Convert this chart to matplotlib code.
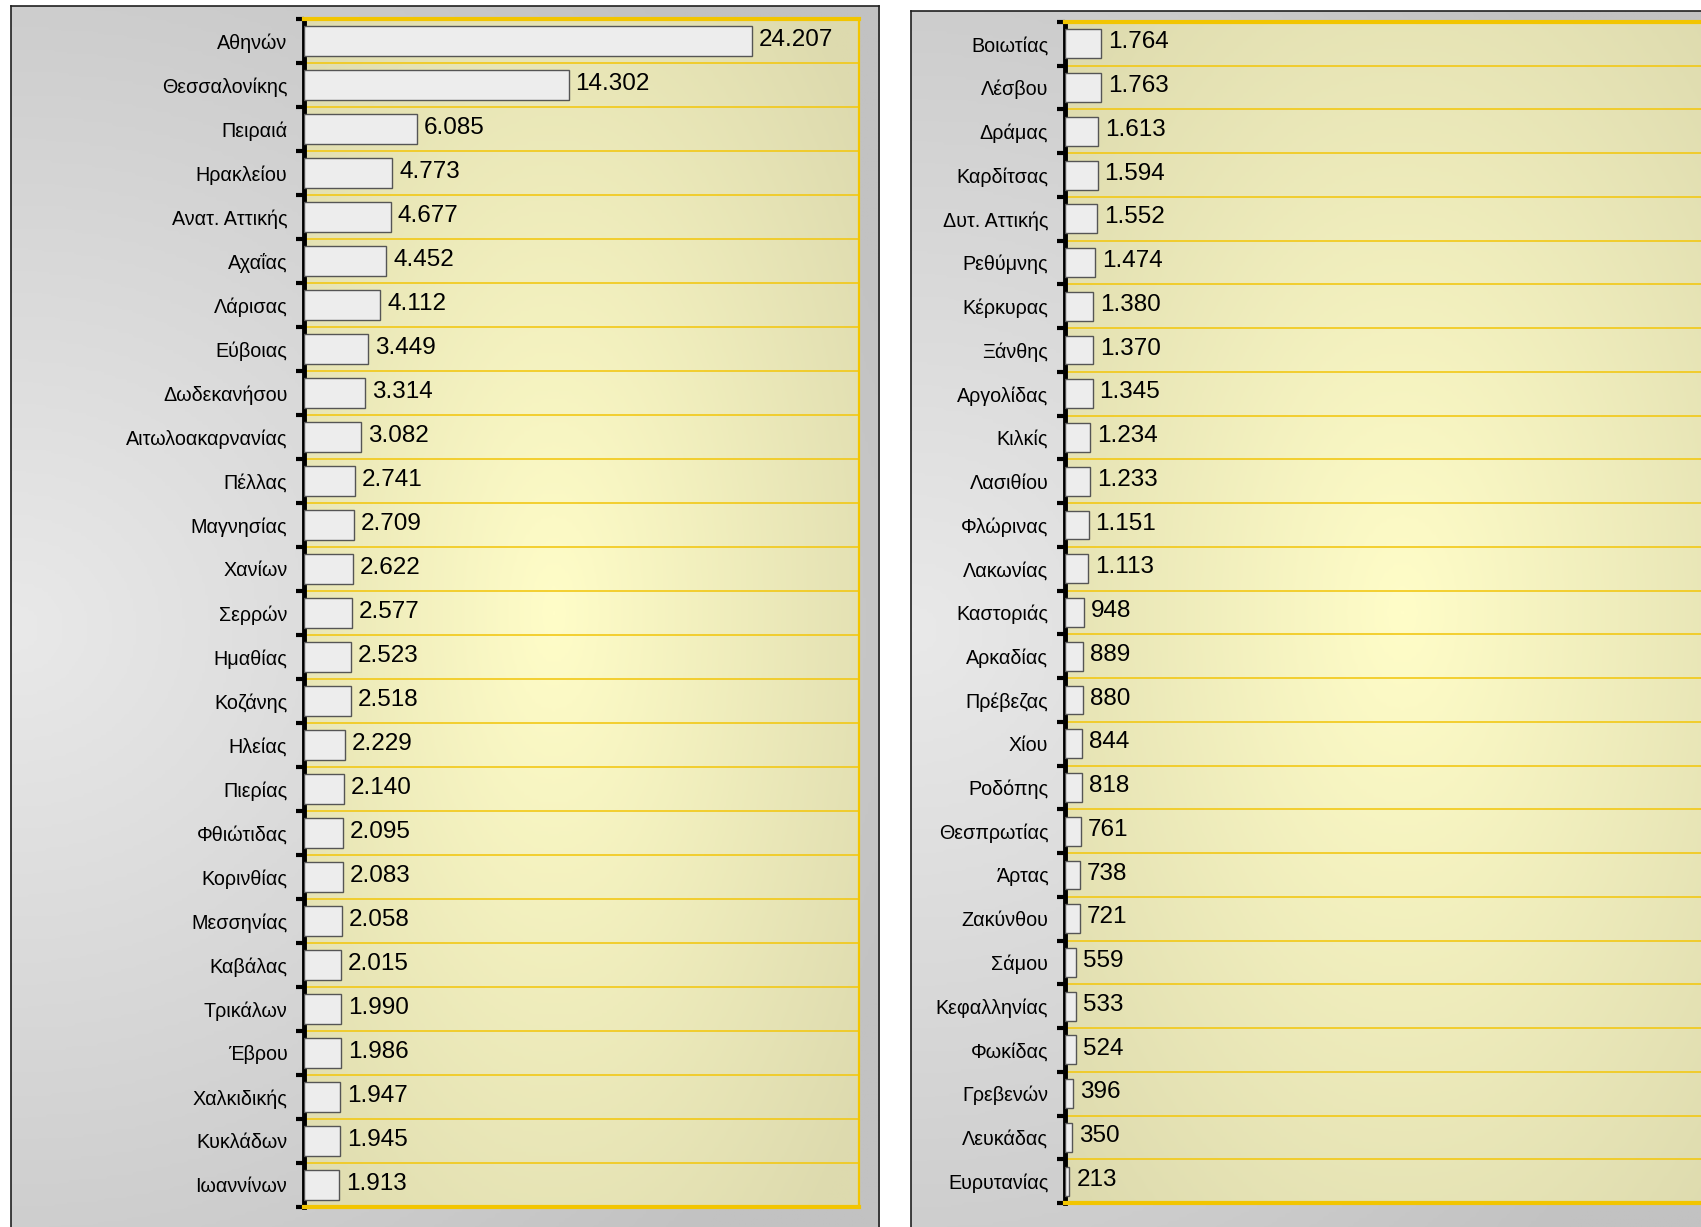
import numpy as np
import matplotlib.pyplot as plt
from matplotlib.colors import LinearSegmentedColormap

plt.rcParams['font.family'] = ['Liberation Sans', 'DejaVu Sans']

W, H = 1701, 1227

# Νομοί - αριστερό διάγραμμα
left_names = ['Αθηνών', 'Θεσσαλονίκης', 'Πειραιά', 'Ηρακλείου', 'Ανατ. Αττικής',
              'Αχαΐας', 'Λάρισας', 'Εύβοιας', 'Δωδεκανήσου', 'Αιτωλοακαρνανίας',
              'Πέλλας', 'Μαγνησίας', 'Χανίων', 'Σερρών', 'Ημαθίας', 'Κοζάνης',
              'Ηλείας', 'Πιερίας', 'Φθιώτιδας', 'Κορινθίας', 'Μεσσηνίας',
              'Καβάλας', 'Τρικάλων', 'Έβρου', 'Χαλκιδικής', 'Κυκλάδων', 'Ιωαννίνων']
left_values = [24207, 14302, 6085, 4773, 4677, 4452, 4112, 3449, 3314, 3082,
               2741, 2709, 2622, 2577, 2523, 2518, 2229, 2140, 2095, 2083,
               2058, 2015, 1990, 1986, 1947, 1945, 1913]

# Νομοί - δεξί διάγραμμα
right_names = ['Βοιωτίας', 'Λέσβου', 'Δράμας', 'Καρδίτσας', 'Δυτ. Αττικής',
               'Ρεθύμνης', 'Κέρκυρας', 'Ξάνθης', 'Αργολίδας', 'Κιλκίς',
               'Λασιθίου', 'Φλώρινας', 'Λακωνίας', 'Καστοριάς', 'Αρκαδίας',
               'Πρέβεζας', 'Χίου', 'Ροδόπης', 'Θεσπρωτίας', 'Άρτας', 'Ζακύνθου',
               'Σάμου', 'Κεφαλληνίας', 'Φωκίδας', 'Γρεβενών', 'Λευκάδας', 'Ευρυτανίας']
right_values = [1764, 1763, 1613, 1594, 1552, 1474, 1380, 1370, 1345, 1234,
                1233, 1151, 1113, 948, 889, 880, 844, 818, 761, 738, 721,
                559, 533, 524, 396, 350, 213]


def fig_rect(x0, y0, x1, y1):
    return [x0 / W, 1 - y1 / H, (x1 - x0) / W, (y1 - y0) / H]


def radial(cx, cy, rx, ry, n=300):
    X, Y = np.meshgrid(np.linspace(0, 1, n), np.linspace(0, 1, n))
    r = np.sqrt(((X - cx) / rx) ** 2 + ((Y - cy) / ry) ** 2)
    return np.clip(r, 0, 1)


gray_cmap = LinearSegmentedColormap.from_list('gr', ['#e9e9e9', '#c2c2c2'])
yellow_cmap = LinearSegmentedColormap.from_list('ye', ['#fffdc8', '#dddaae'])

fig = plt.figure(figsize=(W / 100, H / 100), dpi=100)


def panel(box, plot, names, values, xmax, cx):
    # γκρι πλαίσιο
    bg = fig.add_axes(fig_rect(*box))
    bg.imshow(radial(0.0, 0.5, 1.1, 0.7), cmap=gray_cmap, vmin=0, vmax=1,
              extent=(0, 1, 0, 1), aspect='auto')
    bg.set_xticks([])
    bg.set_yticks([])
    for s in bg.spines.values():
        s.set_color('#202020')
        s.set_linewidth(1.2)

    ax = fig.add_axes(fig_rect(*plot))
    n = len(names)
    y = np.arange(n)
    ax.set_xlim(0, xmax)
    ax.set_ylim(n - 0.5, -0.5)
    ax.imshow(radial(cx, 0.5, 0.7, 0.7), cmap=yellow_cmap, vmin=0, vmax=1,
              extent=(0, xmax, n - 0.5, -0.5), aspect='auto', zorder=0)
    ax.barh(y, values, height=0.66, color='#ededed', edgecolor='#555555',
            linewidth=1, zorder=3)
    for i, v in enumerate(values):
        ax.annotate(f"{v:,}".replace(',', '.'), (v, i), xytext=(5, 1),
                    textcoords='offset points', va='center', ha='left',
                    fontsize=17.5, color='black', zorder=4)

    ax.set_yticks(y)
    ax.set_yticklabels(names, fontsize=14.2)
    ax.set_yticks(np.arange(-0.5, n, 1), minor=True)
    ax.tick_params(axis='y', which='major', length=0, pad=12)
    ax.tick_params(axis='y', which='minor', length=6, width=3, color='black')
    ax.set_xticks([])
    ax.grid(which='minor', axis='y', color='#f2c816', linewidth=1.2, zorder=1)
    ax.set_axisbelow(True)

    ax.spines['left'].set_color('black')
    ax.spines['left'].set_linewidth(3.5)
    for s in ['top', 'bottom']:
        ax.spines[s].set_color('#f2c500')
        ax.spines[s].set_linewidth(3)
    ax.spines['right'].set_color('#f2c500')
    ax.spines['right'].set_linewidth(1.6)
    return ax


panel((11, 6, 879, 1250), (304, 19, 859, 1207), left_names, left_values, 30000, 0.45)
panel((911, 11, 1730, 1250), (1065, 22, 1740, 1203), right_names, right_values, 33000, 0.5)

fig.savefig('out.png', dpi=100, facecolor='white')
